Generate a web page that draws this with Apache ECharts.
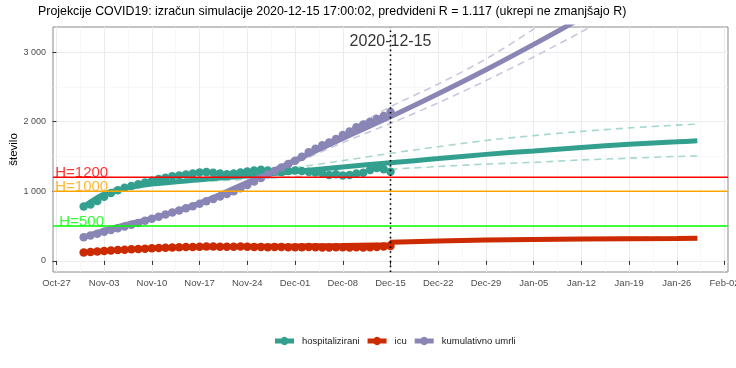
<!DOCTYPE html>
<html><head><meta charset="utf-8">
<script src="https://cdn.jsdelivr.net/npm/echarts@6/dist/echarts.min.js"></script>
<style>html,body{margin:0;padding:0;background:#fff}#c{width:736px;height:368px}</style>
</head><body><div id="c"></div>
<script>
// ---------- DATA ----------
const titleText = 'Projekcije COVID19: izračun simulacije 2020-12-15 17:00:02, predvideni R = 1.117 (ukrepi ne zmanjšajo R)';
const seriesNames = ['hospitalizirani', 'icu', 'kumulativno umrli'];

const obsDates = [
 '2020-10-31',
 '2020-11-01','2020-11-02','2020-11-03','2020-11-04','2020-11-05','2020-11-06','2020-11-07','2020-11-08','2020-11-09','2020-11-10',
 '2020-11-11','2020-11-12','2020-11-13','2020-11-14','2020-11-15','2020-11-16','2020-11-17','2020-11-18','2020-11-19','2020-11-20',
 '2020-11-21','2020-11-22','2020-11-23','2020-11-24','2020-11-25','2020-11-26','2020-11-27','2020-11-28','2020-11-29','2020-11-30',
 '2020-12-01','2020-12-02','2020-12-03','2020-12-04','2020-12-05','2020-12-06','2020-12-07','2020-12-08','2020-12-09','2020-12-10',
 '2020-12-11','2020-12-12','2020-12-13','2020-12-14','2020-12-15'];
const hospObs = [780,
 810,860,920,975,1015,1050,1075,1100,1125,1150,
 1175,1195,1215,1225,1240,1255,1270,1275,1265,1255,
 1245,1255,1270,1285,1300,1310,1300,1285,1275,1290,
 1300,1290,1280,1270,1255,1235,1245,1225,1235,1255,
 1265,1305,1335,1315,1280];
const icuObs = [120,
 128,135,142,148,155,160,166,170,175,180,
 185,188,192,196,198,200,203,205,206,204,
 202,203,205,204,200,198,196,198,200,197,
 195,196,198,195,192,193,196,194,192,195,
 193,196,200,205,215];
const deathsObs = [340,
 365,390,420,445,470,495,520,545,575,605,
 635,665,695,725,755,785,820,855,890,925,
 960,1000,1045,1090,1140,1190,1240,1290,1340,1390,
 1440,1495,1560,1610,1660,1700,1750,1810,1860,1920,
 1960,2000,2040,2080,2140];

const fitDates = ['2020-10-31','2020-11-03','2020-11-07','2020-11-10','2020-11-17','2020-11-24','2020-12-01','2020-12-08',
 '2020-12-15','2020-12-22','2020-12-29','2021-01-05','2021-01-12','2021-01-19','2021-01-26','2021-01-29'];
const hospFit    = [780, 960,1060,1105,1165,1220,1285,1350,1410,1470,1530,1580,1630,1675,1710,1725];
const hospHigh   = [790, 965,1065,1110,1175,1255,1340,1440,1545,1640,1730,1800,1860,1910,1950,1965];
const hospLow    = [770, 950,1045,1090,1140,1170,1210,1260,1315,1355,1390,1415,1450,1475,1500,1506];
const deathsFit  = [340, 440, 540, 610, 830,1130,1440,1760,2070,2400,2745,3110,3490,3890,4310,4500];
const deathsHigh = [345, 450, 550, 620, 845,1150,1480,1830,2214,2540,2900,3330,3800,4300,4850,5100];
const deathsLow  = [335, 430, 530, 600, 815,1110,1400,1700,1975,2270,2590,2930,3290,3670,4070,4250];

const icuFitDates  = ['2020-10-31','2020-11-03','2020-11-07','2020-11-10','2020-11-17','2020-11-24','2020-12-01','2020-12-08','2020-12-15'];
const icuFitPast   = [122, 140, 165, 180, 200, 210, 215, 222, 230];
const projDates    = ['2020-12-15','2020-12-22','2020-12-29','2021-01-05','2021-01-12','2021-01-19','2021-01-26','2021-01-29'];
const icuFitProj   = [268, 287, 300, 308, 314, 319, 323, 325];
const icuHigh      = [282, 300, 313, 322, 330, 336, 341, 344];
const icuLow       = [255, 272, 285, 293, 299, 303, 306, 308];

const xTickDates = ['2020-10-27','2020-11-03','2020-11-10','2020-11-17','2020-11-24','2020-12-01','2020-12-08','2020-12-15',
 '2020-12-22','2020-12-29','2021-01-05','2021-01-12','2021-01-19','2021-01-26','2021-02-02'];
const xTickLabels = ['Oct-27','Nov-03','Nov-10','Nov-17','Nov-24','Dec-01','Dec-08','Dec-15','Dec-22','Dec-29','Jan-05','Jan-12','Jan-19','Jan-26','Feb-02'];
const yTicks = [0, 1000, 2000, 3000];
const yTickLabels = ['0', '1 000', '2 000', '3 000'];
const yMinor = [500, 1500, 2500];

const hLines = [1200, 1000, 500];
const hLabels = ['H=1200', 'H=1000', 'H=500'];
const hColors = ['#ff0000', '#ffa500', '#00ff00'];
const hLabelDate = '2020-10-31';
const vLineDate = '2020-12-15';
const vLineLabel = '2020-12-15';
const vLabelY = 3150;

// ---------- BUILD ----------
const day0 = Date.UTC(2020, 9, 27);
const toDay = s => (Date.parse(s + 'T00:00:00Z') - day0) / 86400000;
const pairs = (dates, vals) => dates.map((d, i) => [toDay(d), vals[i]]);

const C = {hosp: '#33a08f', icu: '#cc2a00', deaths: '#8986b6'};
const CL = {hosp: '#a7d8cf', icu: '#e9a08c', deaths: '#c9c7de'};
const FONT = '"Liberation Sans", Arial, Helvetica, sans-serif';

const xTickVals = xTickDates.map(toDay);
const xMinorVals = xTickVals.slice(0, -1).map(v => v + 3.5);
const labelMap = {};
xTickVals.forEach((v, i) => labelMap[v] = xTickLabels[i]);
const yLabelMap = {};
yTicks.forEach((v, i) => yLabelMap[v] = yTickLabels[i]);

const XMIN = -0.5, XMAX = 98.5, YMIN = -160, YMAX = 3360;

function band(name, dates, vals, color) {
  return {name, type: 'line', data: pairs(dates, vals), showSymbol: false, silent: true, smooth: 0.3,
    lineStyle: {color, width: 1.6, type: [7, 5]}, z: 2, xAxisIndex: 0, yAxisIndex: 0};
}
function fit(name, data, color) {
  return {name, type: 'line', data, showSymbol: false, silent: true, smooth: 0.3,
    lineStyle: {color, width: 5, cap: 'butt'}, z: 3, xAxisIndex: 0, yAxisIndex: 0};
}
function pts(name, vals, color) {
  return {name, type: 'scatter', data: pairs(obsDates, vals), symbolSize: 8.5, silent: true,
    itemStyle: {color, opacity: 1}, z: 4, xAxisIndex: 0, yAxisIndex: 0};
}

const icuFitData = pairs(icuFitDates, icuFitPast).concat(pairs(projDates, icuFitProj));

const legendIcon = 'path://M0,1.6 H6.3 A4,4 0 0 1 12.7,1.6 H19 V6.4 H12.7 A4,4 0 0 1 6.3,6.4 H0 Z';

const hLineSeries = hLines.map((h, i) => ({
  name: 'h' + h, type: 'line', data: [[XMIN, h], [XMAX, h]], showSymbol: false, silent: true,
  lineStyle: {color: hColors[i], width: 1.5}, itemStyle: {color: hColors[i]}, z: 6
}));

const option = {
  animation: false,
  backgroundColor: '#ffffff',
  textStyle: {fontFamily: FONT},
  title: {text: titleText, left: 38, top: 6, padding: 0,
    textStyle: {fontSize: 12.4, fontWeight: 'normal', color: '#000', fontFamily: FONT}},
  legend: {
    data: seriesNames, left: 275, top: 336, padding: 0, itemWidth: 19, itemHeight: 8, itemGap: 8,
    icon: legendIcon, selectedMode: false,
    textStyle: {fontSize: 9.5, color: '#1a1a1a', fontFamily: FONT, padding: [0, 0, 0, 3]}
  },
  grid: {left: 53, right: 8, top: 27, bottom: 96, show: true, borderColor: '#8a8a8a', borderWidth: 1,
    backgroundColor: '#fff', outerBoundsMode: 'none', containLabel: false},
  xAxis: [
    {type: 'value', min: XMIN, max: XMAX,
      axisLine: {show: false},
      axisTick: {show: true, length: 4, customValues: xTickVals, lineStyle: {color: '#333', width: 1}},
      axisLabel: {customValues: xTickVals, formatter: v => labelMap[v] || '', fontSize: 9.5, color: '#4d4d4d', margin: 6, fontFamily: FONT},
      splitLine: {show: true, lineStyle: {color: '#ebebeb', width: 1}}},
    {type: 'value', min: XMIN, max: XMAX, position: 'bottom',
      axisLine: {show: false}, axisLabel: {show: false},
      axisTick: {show: false, customValues: xMinorVals},
      splitLine: {show: true, lineStyle: {color: '#f4f4f4', width: 0.6}}}
  ],
  yAxis: [
    {type: 'value', min: YMIN, max: YMAX,
      name: 'število', nameLocation: 'middle', nameGap: 33, nameRotate: 90, nameMoveOverlap: false,
      nameTextStyle: {fontSize: 11.5, color: '#000', fontFamily: FONT},
      axisLine: {show: false},
      axisTick: {show: true, length: 4, customValues: yTicks, lineStyle: {color: '#333', width: 1}},
      axisLabel: {customValues: yTicks, formatter: v => yLabelMap[v] !== undefined ? yLabelMap[v] : '', fontSize: 9, color: '#4d4d4d', margin: 7, fontFamily: FONT},
      splitLine: {show: true, lineStyle: {color: '#ebebeb', width: 1}}},
    {type: 'value', min: YMIN, max: YMAX, position: 'left',
      axisLine: {show: false}, axisLabel: {show: false},
      axisTick: {show: false, customValues: yMinor},
      splitLine: {show: true, lineStyle: {color: '#f4f4f4', width: 0.6}}}
  ],
  series: [
    band('hospHigh', fitDates, hospHigh, CL.hosp),
    band('hospLow', fitDates, hospLow, CL.hosp),
    band('deathsHigh', fitDates, deathsHigh, CL.deaths),
    band('deathsLow', fitDates, deathsLow, CL.deaths),
    band('icuHigh', projDates, icuHigh, CL.icu),
    band('icuLow', projDates, icuLow, CL.icu),
    fit('hospFit', pairs(fitDates, hospFit), C.hosp),
    fit('deathsFit', pairs(fitDates, deathsFit), C.deaths),
    Object.assign(fit('icuFit', icuFitData, C.icu), {smooth: false}),
    pts(seriesNames[0], hospObs, C.hosp),
    pts(seriesNames[1], icuObs, C.icu),
    pts(seriesNames[2], deathsObs, C.deaths),
    ...hLineSeries,
    {name: 'vLine', type: 'line', silent: true, showSymbol: false, z: 6,
      data: [[toDay(vLineDate), YMIN], [toDay(vLineDate), YMAX]],
      lineStyle: {color: '#000', width: 1.6, type: [1.6, 3.2]}},
    {name: 'hText', type: 'scatter', symbolSize: 0, silent: true, z: 7,
      data: hLines.map((h, i) => ({value: [toDay(hLabelDate), h],
        label: {show: true, formatter: hLabels[i], color: hColors[i], position: 'top', distance: 0, offset: [-2, 3],
          fontSize: 15, lineHeight: 15, fontFamily: FONT}}))},
    {name: 'vText', type: 'scatter', symbolSize: 0, silent: true, z: 7,
      data: [{value: [toDay(vLineDate), vLabelY],
        label: {show: true, formatter: vLineLabel, color: '#000', position: 'inside', fontSize: 16, fontFamily: FONT}}]}
  ]
};
const chart = echarts.init(document.getElementById('c'), null, {renderer: 'canvas'});
chart.setOption(option);
</script></body></html>
